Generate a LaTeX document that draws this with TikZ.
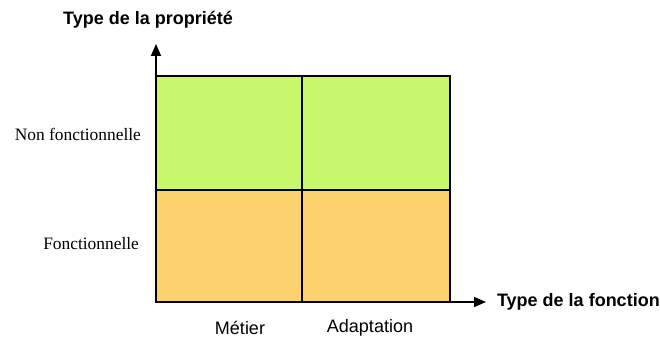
\documentclass[tikz,border=0pt]{standalone}
\usepackage{fontspec}
\setmainfont{Liberation Serif}
\setsansfont{Liberation Sans}
\usepackage{xcolor}
\usetikzlibrary{positioning,arrows.meta}

\definecolor{vert}{HTML}{C6F76D}
\definecolor{orange}{HTML}{FDD16D}

\begin{document}
\begin{tikzpicture}[
  x=0.5pt, y=-0.5pt,
  cell/.style={draw, line width=0.8pt, fill=#1},
  axe/.style={-{Triangle[length=6pt,width=5pt]}, line width=0.8pt},
  titre/.style={font=\sffamily\bfseries\fontsize{9}{11}\selectfont},
  cat/.style={font=\sffamily\fontsize{9}{11}\selectfont},
  niveau/.style={font=\rmfamily\fontsize{8.7}{11}\selectfont, anchor=east}
]
  \useasboundingbox (0,0) rectangle (660,340);

  % Cases
  \draw[cell=vert] (156,76) rectangle (302,190);
  \draw[cell=vert] (302,76) rectangle (450,190);
  \draw[cell=orange] (156,190) rectangle (302,302);
  \draw[cell=orange] (302,190) rectangle (450,302);

  % Axes
  \coordinate (origine) at (156,302);
  \coordinate (haut) at (156,44);
  \coordinate (droite) at (486,302);
  \draw[axe] (origine) -- (haut);
  \draw[axe] (origine) -- (droite);

  % Titres des axes
  \node[titre] (propriete) at (148,20) {Type de la propriété};
  \node[titre, right=2pt of droite] (fonction) {Type de la fonction};

  % Niveaux
  \node[niveau] (nonfonc) at (148,134) {Non fonctionnelle};
  \node[niveau] (fonc) at (146,244) {Fonctionnelle};
  \node[cat] (metier) at (240,328) {Métier};
  \node[cat] (adapt) at (370,328) {Adaptation};
\end{tikzpicture}
\end{document}
